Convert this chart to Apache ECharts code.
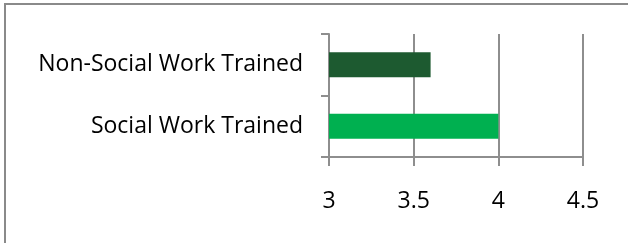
<!DOCTYPE html>
<html lang="en">
<head>
    <meta charset="UTF-8">
    <title>Social Work Trained vs Non-Social Work Trained</title>
    <script src="https://cdn.jsdelivr.net/npm/echarts@6/dist/echarts.min.js"></script>
    <style>
        html, body { margin: 0; padding: 0; background: #fff; overflow: hidden; }
        #frame {
            position: absolute; left: 4px; top: 3px; width: 700px; height: 300px;
            border: 2px solid #8a8a8a; box-sizing: border-box;
        }
        #chart { position: absolute; left: 0; top: 0; width: 628px; height: 243px; }
    </style>
</head>
<body>
<div id="frame"></div>
<div id="chart"></div>

<script>
    // bottom to top
    let categories = ['Social Work Trained', 'Non-Social Work Trained'];
    let values = [4.0, 3.6];
    let barColors = ['#00b050', '#1d5a30'];

    let chart = echarts.init(document.getElementById('chart'));

    let option = {
        animation: false,
        grid: { left: 329, right: 45, top: 34, bottom: 86, containLabel: false },
        xAxis: {
            type: 'value',
            min: 3,
            max: 4.5,
            interval: 0.5,
            axisLine: { show: true, lineStyle: { color: '#8e8e8e', width: 2 } },
            axisTick: { show: true, length: 9, lineStyle: { color: '#8e8e8e', width: 2 } },
            splitLine: { show: true, lineStyle: { color: '#8e8e8e', width: 2 } },
            axisLabel: { margin: 33, color: '#000', fontSize: 23, fontFamily: 'Open Sans' }
        },
        yAxis: {
            type: 'category',
            data: categories,
            axisLine: { show: true, lineStyle: { color: '#8e8e8e', width: 2 } },
            axisTick: { show: true, length: 8, lineStyle: { color: '#8e8e8e', width: 2 } },
            axisLabel: { margin: 26, color: '#000', fontSize: 23, fontFamily: 'Open Sans',
                padding: [8, 0, 0, 0] }
        },
        series: [{
            type: 'bar',
            barWidth: 25,
            data: values.map(function (v, i) {
                return { value: v, itemStyle: { color: barColors[i] } };
            })
        }]
    };

    chart.setOption(option);
</script>
</body>
</html>
